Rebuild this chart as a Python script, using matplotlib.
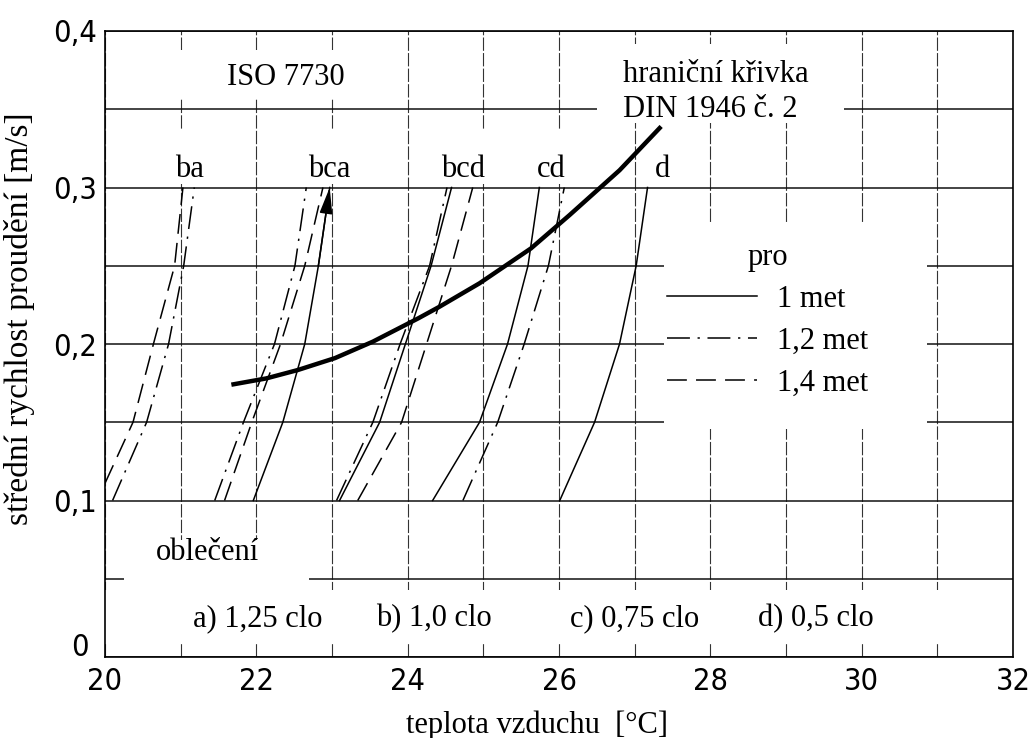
import matplotlib
matplotlib.use('Agg')
import matplotlib.pyplot as plt
from matplotlib.patches import Rectangle
from matplotlib.font_manager import FontProperties
from matplotlib.transforms import ScaledTranslation

# rychlost proudeni [m/s], u ktere jsou krivky odecteny
v_levels = [0.10, 0.15, 0.20, 0.25, 0.30]
v_ba_14 = [0.111, 0.15, 0.20, 0.25, 0.30]   # cara vychazi z leve osy

# teplota vzduchu [°C] pro 1 met (plna cara)
t_bca_10 = [21.96, 22.35, 22.64, 22.82, 22.97]
t_bcd_10 = [23.10, 23.63, 23.97, 24.31, 24.58]
t_c_10 = [24.33, 24.95, 25.32, 25.59, 25.74]
t_d_10 = [26.01, 26.47, 26.80, 27.02, 27.17]
# 1,2 met (cerchovana)
t_ba_12 = [20.10, 20.55, 20.84, 21.04, 21.18]
t_bca_12 = [21.45, 21.83, 22.24, 22.51, 22.66]
t_bcd_12 = [23.06, 23.54, 23.90, 24.29, 24.52]
t_cd_12 = [24.73, 25.19, 25.54, 25.86, 26.07]
# 1,4 met (carkovana)
t_ba_14 = [20.00, 20.37, 20.64, 20.92, 21.03]
t_bca_14 = [21.58, 21.94, 22.32, 22.64, 22.88]
t_bcd_14 = [23.34, 23.92, 24.25, 24.58, 24.86]

# hranicni krivka DIN 1946 c. 2
din_t = [21.67, 22.13, 22.55, 23.04, 23.54, 24.14, 24.42, 24.95, 25.63, 26.14, 26.80, 27.35]
din_v = [0.174, 0.178, 0.1834, 0.191, 0.2015, 0.2164, 0.2238, 0.2388, 0.2611, 0.2824, 0.311, 0.339]

x_ticks = [20, 22, 24, 26, 28, 30, 32]
y_ticks = [0, 0.1, 0.2, 0.3, 0.4]
y_tick_labels = ['0', '0,1', '0,2', '0,3', '0,4']
group_labels = ['ba', 'bca', 'bcd', 'cd', 'd']
clothing_labels = ['a) 1,25 clo', 'b) 1,0 clo', 'c) 0,75 clo', 'd) 0,5 clo']
met_labels = ['1 met', '1,2 met', '1,4 met']

# polohy popisku
group_label_x = [21.12, 22.96, 24.73, 25.90, 27.37]
clothing_label_x = [22.02, 24.35, 27.0, 29.4]

SERIF = 'Liberation Serif'
solid = '-'
dashdot = (0, (15, 5, 1.5, 5))
dashed = (0, (13, 6))

fig = plt.figure(figsize=(10.34, 7.38), dpi=100)
ax = fig.add_axes([105 / 1034, 81 / 738, 908 / 1034, 626 / 738])
ax.set_xlim(20, 32)
ax.set_ylim(0, 0.4)

# mrizka
ax.set_xticks(x_ticks)
ax.set_xticks(range(20, 33), minor=True)
ax.set_yticks(y_ticks, y_tick_labels)
ax.set_yticks([0.05, 0.15, 0.25, 0.35], minor=True)
ax.set_axisbelow(True)
ax.grid(axis='x', which='both', color='#333333', lw=0.8, ls=(0, (12, 2)))
ax.grid(axis='y', which='both', color='#111111', lw=1.1, ls='-')
ax.tick_params(which='both', length=0)
ax.tick_params(axis='x', pad=7)
ax.tick_params(axis='y', pad=6)
tick_font = FontProperties(family='DejaVu Sans', stretch='condensed', size=22)
for lab in ax.get_xticklabels() + ax.get_yticklabels():
    lab.set_fontproperties(tick_font)
# nula na ose y je v predloze posunuta vys a vlevo
zero = ax.yaxis.get_major_ticks()[0].label1
zero.set_transform(zero.get_transform() + ScaledTranslation(-6 / 72, 9 / 72, fig.dpi_scale_trans))
for s in ax.spines.values():
    s.set_linewidth(1.2)

# bila pole pod texty (preruseni mrizky)
white_boxes = [
    (20.9, 0.357, 2.2, 0.031),
    (26.5, 0.341, 3.27, 0.051),
    (27.39, 0.146, 3.47, 0.131),
    (20.25, 0.040, 2.45, 0.035),
    (20.0, 0.009, 12.0, 0.0335),
]
for x0, y0, w, h in white_boxes:
    ax.add_patch(Rectangle((x0, y0), w, h, fc='white', ec='none', zorder=1))
for lab, x in zip(group_labels, group_label_x):
    w = 0.28 * len(lab) + 0.05
    ax.add_patch(Rectangle((x - w / 2, 0.302), w, 0.035, fc='white', ec='none', zorder=1))

lw = 1.1
h10, = ax.plot(t_bca_10, v_levels, color='black', lw=lw, ls=solid, zorder=3)
ax.plot(t_bcd_10, v_levels, color='black', lw=lw, ls=solid, zorder=3)
ax.plot(t_c_10, v_levels, color='black', lw=lw, ls=solid, zorder=3)
ax.plot(t_d_10, v_levels, color='black', lw=lw, ls=solid, zorder=3)
h12, = ax.plot(t_ba_12, v_levels, color='black', lw=lw, ls=dashdot, zorder=3)
ax.plot(t_bca_12, v_levels, color='black', lw=lw, ls=dashdot, zorder=3)
ax.plot(t_bcd_12, v_levels, color='black', lw=lw, ls=dashdot, zorder=3)
ax.plot(t_cd_12, v_levels, color='black', lw=lw, ls=dashdot, zorder=3)
h14, = ax.plot(t_ba_14, v_ba_14, color='black', lw=lw, ls=dashed, zorder=3)
ax.plot(t_bca_14, v_levels, color='black', lw=lw, ls=dashed, zorder=3)
ax.plot(t_bcd_14, v_levels, color='black', lw=lw, ls=dashed, zorder=3)

# sipka na konci krivky bca
ax.annotate('', xy=(t_bca_10[-1], v_levels[-1]), xytext=(t_bca_10[-2], v_levels[-2]),
            arrowprops=dict(arrowstyle='-|>,head_length=0.9,head_width=0.22',
                            color='black', lw=lw, mutation_scale=18, shrinkA=0, shrinkB=0),
            zorder=3)

ax.plot(din_t, din_v, color='black', lw=3.2, solid_capstyle='butt', zorder=4)

# texty
txt = dict(family=SERIF, fontsize=22, color='black')
ax.text(22.39, 0.3655, 'ISO 7730', ha='center', va='baseline', **txt)
ax.text(26.84, 0.3676, 'hraniční křivka', ha='left', va='baseline', **txt)
ax.text(26.84, 0.3453, 'DIN 1946 č. 2', ha='left', va='baseline', **txt)
for lab, x in zip(group_labels, group_label_x):
    ax.text(x, 0.307, lab, ha='center', va='baseline', zorder=2, **txt)
ax.text(21.35, 0.062, 'oblečení', ha='center', va='baseline', zorder=2, **txt)
for lab, x in zip(clothing_labels, clothing_label_x):
    ax.text(x, 0.0194, lab, ha='center', va='baseline', zorder=2, **txt)

leg = ax.legend([h10, h12, h14], met_labels, title='pro', loc='upper left',
                bbox_to_anchor=(0.619, 0.661), frameon=False, borderpad=0,
                borderaxespad=0, handlelength=2.95, handletextpad=0.65,
                labelspacing=0.42, prop=FontProperties(family=SERIF, size=22),
                title_fontproperties=FontProperties(family=SERIF, size=22))
leg.set_zorder(5)

ax.set_xlabel('teplota vzduchu  [°C]', family=SERIF, fontsize=22, va='baseline')
ax.xaxis.set_label_coords(0.476, -0.121)
ax.set_ylabel('střední rychlost proudění [m/s]', family=SERIF, fontsize=24)
ax.yaxis.set_label_coords(-0.077, 0.54)

fig.savefig('out.png', dpi=100, facecolor='white')
